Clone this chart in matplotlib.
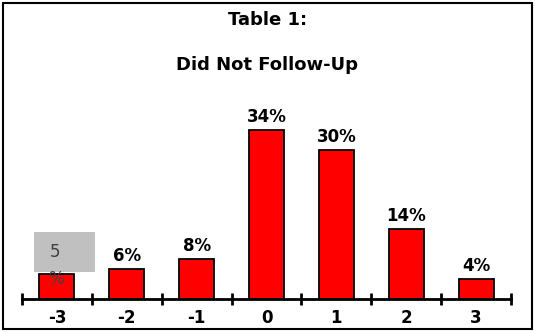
import matplotlib
matplotlib.use("Agg")
import matplotlib.pyplot as plt
from matplotlib.patches import Rectangle

# follow-up score categories and share of patients (%)
scores = [-3, -2, -1, 0, 1, 2, 3]
shares = [5, 6, 8, 34, 30, 14, 4]

plt.rcParams['font.family'] = ['DejaVu Sans']

fig = plt.figure(figsize=(5.35, 3.32), dpi=100)
ax = fig.add_axes([22/535, 33/332, 489/535, 199/332])

ax.bar(scores, shares, width=0.5, color='#ff0000', edgecolor='black', linewidth=1.3)

# value labels above bars (the first one sits in a grey call-out box)
for x, v in zip(scores, shares):
    if x == scores[0]:
        ax.add_patch(Rectangle((x - 0.33, v + 0.4), 0.87, 8.0,
                               facecolor='#c0c0c0', edgecolor='none', zorder=3))
        ax.text(x - 0.03, v + 4.4, str(v), ha='center', va='center',
                fontsize=12, color='#404040', zorder=4)
        ax.text(x - 0.01, v - 0.9, '%', ha='center', va='center',
                fontsize=12, color='#404040', zorder=4)
    else:
        ax.annotate(f'{v}%', (x, v), xytext=(0, 3), textcoords='offset points',
                    ha='center', va='bottom', fontsize=12, fontweight='bold')

ax.set_xlim(-3.5, 3.5)
ax.set_ylim(0, 40)

for side in ['left', 'right', 'top']:
    ax.spines[side].set_visible(False)
ax.spines['bottom'].set_linewidth(2)
ax.set_yticks([])

ax.set_xticks(scores)
ax.set_xticklabels([str(s) for s in scores], fontsize=12, fontweight='bold')
ax.tick_params(axis='x', which='major', length=0, pad=7)
ax.set_xticks([s - 0.5 for s in scores] + [scores[-1] + 0.5], minor=True)
ax.tick_params(axis='x', which='minor', direction='inout', length=9, width=2)

fig.text(0.5, 1 - 20/332, 'Table 1:', ha='center', va='center',
         fontsize=13, fontweight='bold')
fig.text(0.5, 1 - 65/332, 'Did Not Follow-Up', ha='center', va='center',
         fontsize=13, fontweight='bold')

# frame around the whole chart
fig.patches.append(Rectangle((3/535, 3/332), 529/535, 326/332, transform=fig.transFigure,
                             fill=False, edgecolor='black', linewidth=1.5))

fig.savefig('out.png', dpi=100)
